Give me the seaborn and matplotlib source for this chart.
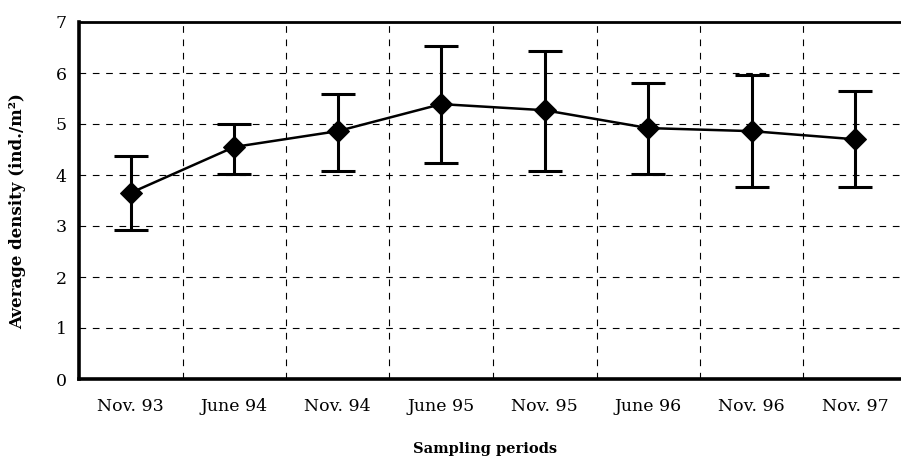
import matplotlib
matplotlib.use("Agg")
import matplotlib.pyplot as plt
import numpy as np
import pandas as pd
import seaborn as sns

# values
periods = ["Nov. 93", "June 94", "Nov. 94", "June 95", "Nov. 95", "June 96", "Nov. 96", "Nov. 97"]
density = [3.65, 4.55, 4.86, 5.39, 5.27, 4.92, 4.86, 4.70]
upper = [4.38, 5.00, 5.59, 6.53, 6.43, 5.80, 5.96, 5.64]
lower = [2.92, 4.02, 4.07, 4.23, 4.07, 4.02, 3.76, 3.76]

df = pd.DataFrame({"pos": np.arange(len(periods)), "density": density})

sns.set_style("white")
plt.rcParams["font.family"] = ["DejaVu Serif"]
plt.rcParams["text.color"] = "black"
plt.rcParams["axes.labelcolor"] = "black"
plt.rcParams["xtick.color"] = "black"
plt.rcParams["ytick.color"] = "black"

fig = plt.figure(figsize=(9.01, 4.68), dpi=100)
ax = fig.add_axes([79 / 901, 89 / 468, 828 / 901, 357 / 468])

sns.lineplot(data=df, x="pos", y="density", ax=ax, color="black", lw=1.8,
             marker="D", markersize=11, markeredgecolor="black", zorder=4)
yerr = [np.array(density) - np.array(lower), np.array(upper) - np.array(density)]
ax.errorbar(df["pos"], df["density"], yerr=yerr, fmt="none", ecolor="black",
            elinewidth=2.2, capsize=12, capthick=2.2, zorder=3)

ax.set_xlim(-0.5, len(periods) - 0.5)
ax.set_ylim(0, 7)
ax.set_yticks(range(8))
ax.set_xticks(df["pos"])
ax.set_xticklabels(periods)
ax.set_xticks(np.arange(0.5, len(periods) - 0.5, 1), minor=True)

ax.tick_params(axis="x", which="major", length=0, pad=14, labelsize=12.5)
ax.tick_params(axis="x", which="minor", length=5, width=0.8, direction="out")
ax.tick_params(axis="y", length=5, width=0.8, direction="out", pad=4, labelsize=12.5)

ax.grid(False)
for y in range(1, 7):
    ax.axhline(y, color="black", lw=0.8, ls=(0, (6, 6)), zorder=1)
for x in np.arange(0.5, len(periods) - 0.5, 1):
    ax.axvline(x, color="black", lw=0.8, ls=(0, (6, 6)), zorder=1)

for side in ["left", "bottom"]:
    ax.spines[side].set_linewidth(2.6)
    ax.spines[side].set_color("black")
ax.spines["top"].set_linewidth(2.0)
ax.spines["top"].set_color("black")
ax.spines["right"].set_visible(False)

ax.set_xlabel("Sampling periods", fontsize=10.5, fontweight="bold")
ax.xaxis.set_label_coords(406 / 828, -63 / 357)
ax.set_ylabel("Average density (ind./m²)", fontsize=12, fontweight="bold")
ax.yaxis.set_label_coords(-53 / 828, 0.47)

fig.savefig("out.png", dpi=100)
